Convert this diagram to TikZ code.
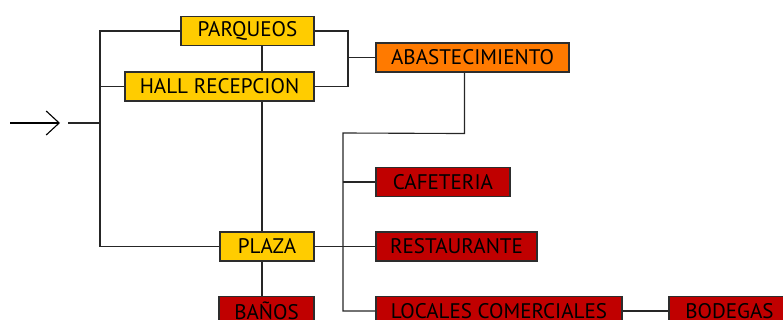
\documentclass[tikz,border=0pt]{standalone}
\usepackage{fontspec}
\setmainfont{PT Sans}
\usetikzlibrary{arrows.meta,calc}

\definecolor{amarillo}{RGB}{255,204,0}
\definecolor{naranja}{RGB}{255,122,0}
\definecolor{rojo}{RGB}{192,0,0}
\definecolor{borde}{RGB}{45,45,45}

\begin{document}
\begin{tikzpicture}[
			x=0.03cm, y=-0.03cm,
			linea/.style={line width=0.95pt, black!85},
			caja/.style={draw=borde, line width=0.9pt, inner sep=0pt,
				minimum height=0.87cm, text=black,
				font=\fontsize{18}{21}\selectfont},
			zona/.style={caja, fill=amarillo},
			abasto/.style={caja, fill=naranja},
			local/.style={caja, fill=rojo},
			entrada/.style={line width=0.95pt, black,
				-{Straight Barb[length=3.9mm, width=7.2mm, line width=0.95pt]}}]
			
			\useasboundingbox (0,0) rectangle (783,320);
			\clip (0,0) rectangle (783,320);
			
			\def\xL{100}     %% llave izquierda
			\def\xE{262}     %% eje vertical central
			\def\xR{348}     %% llave derecha
			\def\xC{343}     %% ramal de locales
			
			%% --- zonas de acceso ---
			\node[zona, minimum width=3.99cm] (parq) at (247.5,31) {PARQUEOS};
			\node[zona, minimum width=5.67cm] (hall) at (219.5,86.5) {HALL RECEPCION};
			\node[zona, minimum width=2.82cm] (plaza) at (267,246.5) {PLAZA};
			\node[abasto, minimum width=5.79cm] (abast) at (472.5,57.5) {ABASTECIMIENTO};
			
			%% --- locales ---
			\node[local, minimum width=4.02cm] (cafe) at (443,182) {CAFETERIA};
			\node[local, minimum width=4.83cm] (rest) at (456.5,246.5) {RESTAURANTE};
			\node[local, minimum width=2.85cm] (banos) at (266.5,311) {BAÑOS};
			\node[local, minimum width=7.38cm] (locales) at (499,311) {LOCALES COMERCIALES};
			\node[local, minimum width=3.63cm] (bodegas) at (729.5,311) {BODEGAS};
			
			%% --- entrada ---
			\coordinate (ini) at (10,123);
			\coordinate (fin) at (60,123);
			\coordinate (ent) at (68,123);
			\draw[entrada] (ini) -- (fin);
			\draw[linea] (ent) -- (\xL,123);
			
			%% --- llave izquierda ---
			\draw[linea] (parq.west) -- (\xL,31) -- (\xL,246.5) -- (plaza.west);
			\draw[linea] (hall.west) -- (\xL,86.5);
			
			%% --- eje vertical ---
			\draw[linea] (parq.south -| \xE,0) -- (hall.north -| \xE,0);
			\draw[linea] (hall.south -| \xE,0) -- (plaza.north -| \xE,0);
			\draw[linea] (plaza.south -| \xE,0) -- (banos.north -| \xE,0);
			
			%% --- llave derecha hacia abastecimiento ---
			\draw[linea] (parq.east) -- (\xR,31) -- (\xR,86.5) -- (hall.east);
			\draw[linea] (\xR,57.5) -- (abast.west);
			
			%% --- ramal de locales ---
			\draw[linea] ($(abast.south)+(-8,0)$) -- ++(0,61) -- (\xC,133)
				-- (\xC,311) -- (locales.west);
			\draw[linea] (\xC,182) -- (cafe.west);
			\draw[linea] (plaza.east) -- (rest.west);
			\draw[linea] (locales.east) -- (bodegas.west);
			
		\end{tikzpicture}
\end{document}
